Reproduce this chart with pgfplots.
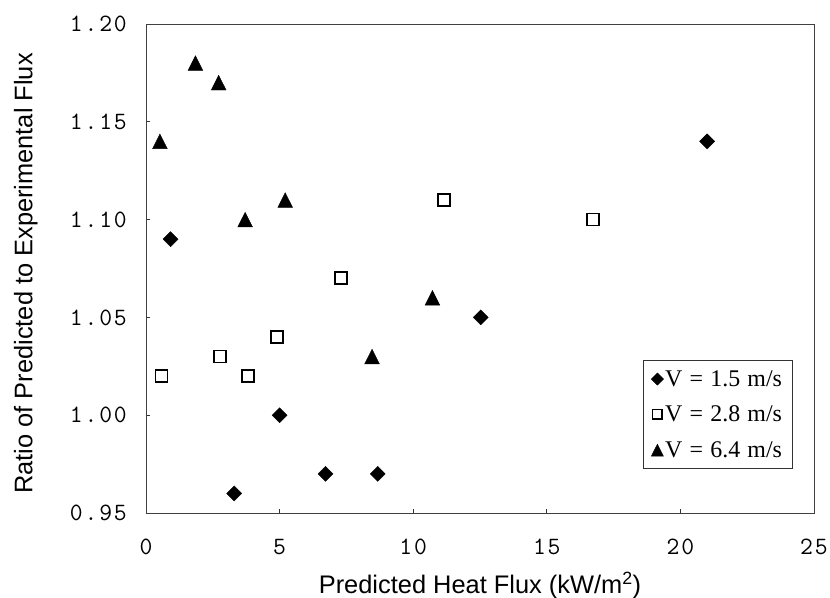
\documentclass[border=0pt]{standalone}
\usepackage{fontspec}
\setmainfont{Liberation Sans}
\newfontfamily\legfont{Liberation Serif}
\newfontfamily\tickfont{Latin Modern Mono}[LetterSpace=7.5]
\usepackage{pgfplots}
\pgfplotsset{compat=1.18}
\newcommand{\lsp}{\hspace{0.3em}}
\begin{document}
\begin{tikzpicture}
\begin{axis}[
  scale only axis, width=668bp, height=489bp,
  xmin=0, xmax=25, ymin=0.95, ymax=1.20,
  xtick={0,5,10,15,20,25},
  ytick={0.95,1.00,1.05,1.10,1.15,1.20},
  tick align=inside, xtick pos=bottom, ytick pos=left,
  major tick length=4bp,
  tick style={black!80, line width=0.7bp},
  axis line style={black!75, line width=0.8bp},
  /pgf/number format/assume math mode=true,
  ticklabel style={font=\fontsize{25}{30}\selectfont\tickfont},
  yticklabel style={/pgf/number format/fixed, /pgf/number format/fixed zerofill, /pgf/number format/precision=2, anchor=east, inner sep=0pt, xshift=-19bp},
  xticklabel style={anchor=base, inner sep=0pt, yshift=-41bp},
  xlabel={Predicted Heat Flux (kW/m\textsuperscript{2})},
  xlabel style={at={(axis description cs:0.5,-0.1636)}, anchor=base, font=\fontsize{25.5}{30}\selectfont},
  ylabel={Ratio of Predicted to Experimental Flux},
  ylabel style={at={(axis description cs:-0.1699,0.4898)}, anchor=base, font=\fontsize{25.5}{30}\selectfont},
  legend image code/.code={%
    \path (-6.5bp,0bp) (6.5bp,0bp);
    \draw[#1, every mark/.append style={scale=0.82}] plot coordinates {(0bp,7.3bp)};},
  legend style={at={(axis description cs:0.744,0.3129)}, anchor=north west,
    draw=black!80, line width=0.7bp, inner xsep=7.2bp, inner ysep=11bp,
    font=\fontsize{24}{26}\selectfont\legfont,
    nodes={anchor=base west, inner xsep=0pt, inner ysep=0pt, text height=15bp, text depth=0bp},
    row sep=20bp, column sep=1bp},
  legend cell align=left,
]
% V = 1.5 m/s (filled diamonds)
\addplot[only marks, mark=square*, mark size=5.3bp, mark options={rotate=45, fill=black, draw=black, line width=0.4bp}]
  coordinates {(0.92,1.09) (3.30,0.96) (5.00,1.00) (6.72,0.97) (8.67,0.97) (12.53,1.05) (21.0,1.14)};
\addlegendentry{V\lsp=\lsp1.5\lsp m/s\hspace*{3bp}}
% V = 2.8 m/s (open squares)
\addplot[only marks, mark=square, mark size=6bp, mark options={draw=black, line width=1.8bp, fill=white}]
  coordinates {(0.58,1.02) (2.76,1.03) (3.82,1.02) (4.90,1.04) (7.30,1.07) (11.16,1.11) (16.72,1.10)};
\addlegendentry{V\lsp=\lsp2.8\lsp m/s\hspace*{3bp}}
% V = 6.4 m/s (filled triangles)
\addplot[only marks, mark=triangle*, mark size=8.5bp, mark options={yshift=-2.44bp, yscale=1.15, fill=black, draw=black, line width=0.4bp}]
  coordinates {(0.52,1.14) (1.85,1.18) (2.72,1.17) (3.71,1.10) (5.21,1.11) (8.46,1.03) (10.72,1.06)};
\addlegendentry{V\lsp=\lsp6.4\lsp m/s\hspace*{3bp}}
\end{axis}
\pgfresetboundingbox
\path (current axis.south west) ++(-146bp,-85bp);
\path (current axis.north east) ++(16bp,24bp);
\end{tikzpicture}
\end{document}
